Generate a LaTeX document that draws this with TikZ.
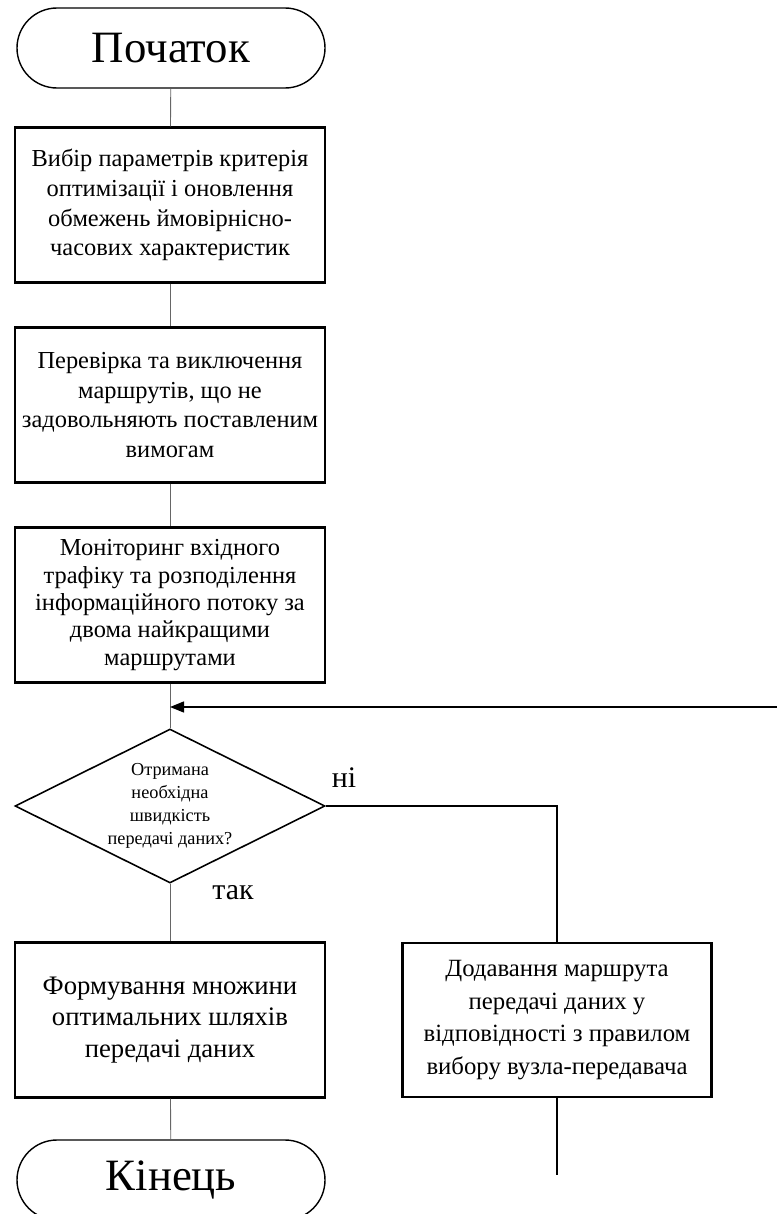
\documentclass[tikz,border=0pt]{standalone}
\usepackage{fontspec}
\setmainfont{Liberation Serif}
\usetikzlibrary{arrows.meta, positioning, shapes.geometric}

\begin{document}
\begin{tikzpicture}[
		term/.style={draw, line width=0.8pt, rounded corners=0.8cm, minimum width=6.16cm, minimum height=1.6cm, font=\fontsize{25.5}{28}\selectfont},
		box/.style={draw, line width=1.2pt, align=center, minimum width=6.2cm, minimum height=3.1cm, inner sep=1pt, font=\fontsize{13.9}{17}\selectfont},
		cond/.style={diamond, draw, line width=0.9pt, align=center, shape aspect=2, inner sep=0pt, minimum width=6.2cm, minimum height=3.08cm, font=\fontsize{10.4}{13}\selectfont},
		lbl/.style={font=\fontsize{17}{20}\selectfont},
		line/.style={black!60, line width=0.5pt},
		flow/.style={line width=0.8pt},
		arr/.style={-{Triangle[length=2.8mm, width=2.2mm]}, line width=0.8pt}
	]
	\useasboundingbox (0,0) rectangle (15.54,-24.28);
	% main column
	\node[term] (start) at (3.42,-0.96) {Початок};
	\node[box] (choice) at (3.4,-4.1) {Вибір параметрів критерія\\ оптимізації і оновлення\\ обмежень ймовірнісно-\\ часових характеристик};
	\node[box] (check) at (3.4,-8.1) {Перевірка та виключення\\ маршрутів, що не\\ задовольняють поставленим\\ вимогам};
	\node[box, font=\fontsize{13.9}{15.6}\selectfont] (monitor) at (3.4,-12.1) {Моніторинг вхідного\\ трафіку та розподілення\\ інформаційного потоку за\\ двома найкращими\\ маршрутами};
	\node[cond] (speed) at (3.4,-16.12) {Отримана\\ необхідна\\ швидкість\\ передачі даних?};
	\node[box, font=\fontsize{15.2}{18}\selectfont] (form) at (3.4,-20.4) {Формування множини\\ оптимальних шляхів\\ передачі даних};
	\node[term] (end) at (3.42,-23.6) {Кінець};
	% side branch
	\node[box, minimum width=6.18cm, minimum height=3.08cm, font=\fontsize{14.1}{18.7}\selectfont] (addroute) at (11.14,-20.4) {Додавання маршрута\\ передачі даних у\\ відповідності з правилом\\ вибору вузла-передавача};
	\coordinate (loopin) at (15.54,-14.14);
	\coordinate (addout) at (11.14,-23.5);
	\node[lbl] (no) at (6.88,-15.56) {ні};
	\node[lbl] (yes) at (4.66,-17.86) {так};
	\draw[line] (start) -- (choice);
	\draw[line] (choice) -- (check);
	\draw[line] (check) -- (monitor);
	\draw[line] (monitor) -- (speed);
	\draw[line] (speed) -- (form);
	\draw[line] (form) -- (end);
	\draw[flow] (speed.east) -| (addroute);
	\draw[flow] (addroute) -- (addout);
	\draw[arr] (loopin) -- (monitor.south |- loopin);
\end{tikzpicture}
\end{document}
